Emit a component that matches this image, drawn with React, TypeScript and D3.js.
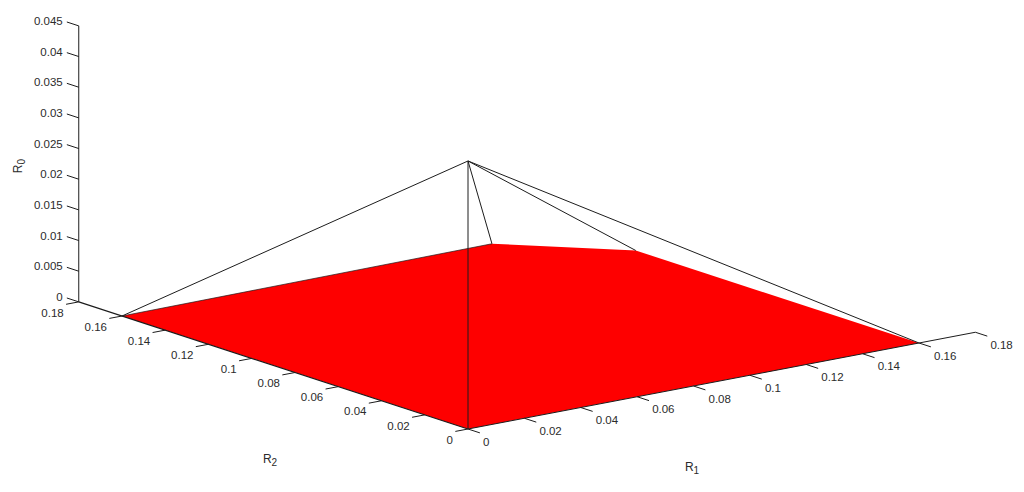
import React from "react";
import * as d3 from "d3";

const r1Ticks = [0, 0.02, 0.04, 0.06, 0.08, 0.1, 0.12, 0.14, 0.16, 0.18];
const r2Ticks = [0, 0.02, 0.04, 0.06, 0.08, 0.1, 0.12, 0.14, 0.16, 0.18];
const r0Ticks = [0, 0.005, 0.01, 0.015, 0.02, 0.025, 0.03, 0.035, 0.04, 0.045];

const regionR1 = [0, 0.16, 0.16, 0.1324, 0];
const regionR2 = [0, 0, 0.131, 0.1615, 0.16];
const apexR0 = 0.0437;

type P = [number, number, number];

const r1X = d3.scaleLinear().domain([0, 0.16]).range([0, 451]);
const r1Y = d3.scaleLinear().domain([0, 0.16]).range([0, -86]);
const r2X = d3.scaleLinear().domain([0, 0.16]).range([0, -346]);
const r2Y = d3.scaleLinear().domain([0, 0.16]).range([0, -113]);
const r0Y = d3.scaleLinear().domain([0, 0.045]).range([0, -276]);
const ORIGIN: [number, number] = [468, 429];

const proj = ([a, b, c]: P): [number, number] => [
  ORIGIN[0] + r1X(a) + r2X(b),
  ORIGIN[1] + r1Y(a) + r2Y(b) + r0Y(c),
];
const line = d3.line<P>().x((p) => proj(p)[0]).y((p) => proj(p)[1]);

const region: P[] = regionR1.map((a, i) => [a, regionR2[i], 0]);
const apex: P = [0, 0, apexR0];

const font = "'Liberation Sans', Arial, sans-serif";
const ink = "#2b2b2b";
const stroke = "#1c1c1c";
const fs = 11.5;

function Seg({ a, b, w = 1 }: { a: P; b: P; w?: number }) {
  return <path d={line([a, b]) as string} fill="none" stroke={stroke} strokeWidth={w} />;
}

function AxisTitle({ x, y, base, sub, rotate }: { x: number; y: number; base: string; sub: string; rotate?: boolean }) {
  return (
    <text
      x={x}
      y={y}
      fontFamily={font}
      fontSize={12}
      fill={ink}
      textAnchor="middle"
      transform={rotate ? `rotate(-90 ${x} ${y})` : undefined}
    >
      {base}
      <tspan dy={3} fontSize={10}>{sub}</tspan>
    </text>
  );
}

export default function App() {
  return (
    <svg
      width={1024}
      height={492}
      viewBox="0 0 1024 492"
      style={{ position: "absolute", left: 0, top: 0, background: "#fff" }}
    >
      <path d={(line(region) as string) + "Z"} fill="#fe0000" stroke="none" />
      <Seg a={region[4]} b={region[3]} w={0.7} />

      {/* axes */}
      <Seg a={[0, 0.18, 0]} b={[0, 0.18, 0.045]} />
      <Seg a={[0, 0, 0]} b={[0, 0.18, 0]} w={1.2} />
      <Seg a={[0, 0, 0]} b={[0.18, 0, 0]} />

      {/* pyramid edges */}
      {region.map((p, i) => (
        <Seg key={i} a={apex} b={p} />
      ))}

      {/* ticks */}
      {r0Ticks.map((t) => (
        <Seg key={t} a={[0, 0.18, t]} b={[0, 0.1855, t]} />
      ))}
      {r2Ticks.map((t) => (
        <Seg key={t} a={[0, t, 0]} b={[-0.0045, t, 0]} />
      ))}
      {r1Ticks.map((t) => (
        <Seg key={t} a={[t, 0, 0]} b={[t, -0.0055, 0]} />
      ))}

      {/* tick labels */}
      {r0Ticks.map((t) => {
        const [x, y] = proj([0, 0.18, t]);
        return (
          <text key={t} x={x - 16} y={y - 5} dy="0.36em" textAnchor="end" fontFamily={font} fontSize={fs} fill={ink}>
            {t}
          </text>
        );
      })}
      {r2Ticks.map((t) => {
        const [x, y] = proj([0, t, 0]);
        return (
          <text key={t} x={x - 15} y={y + 10.5} dy="0.36em" textAnchor="end" fontFamily={font} fontSize={fs} fill={ink}>
            {t}
          </text>
        );
      })}
      {r1Ticks.map((t) => {
        const [x, y] = proj([t, 0, 0]);
        return (
          <text key={t} x={x + 15} y={y + 12.5} dy="0.36em" textAnchor="start" fontFamily={font} fontSize={fs} fill={ink}>
            {t}
          </text>
        );
      })}

      <AxisTitle x={270} y={463} base="R" sub="2" />
      <AxisTitle x={692} y={471} base="R" sub="1" />
      <AxisTitle x={22} y={166} base="R" sub="0" rotate />
    </svg>
  );
}
